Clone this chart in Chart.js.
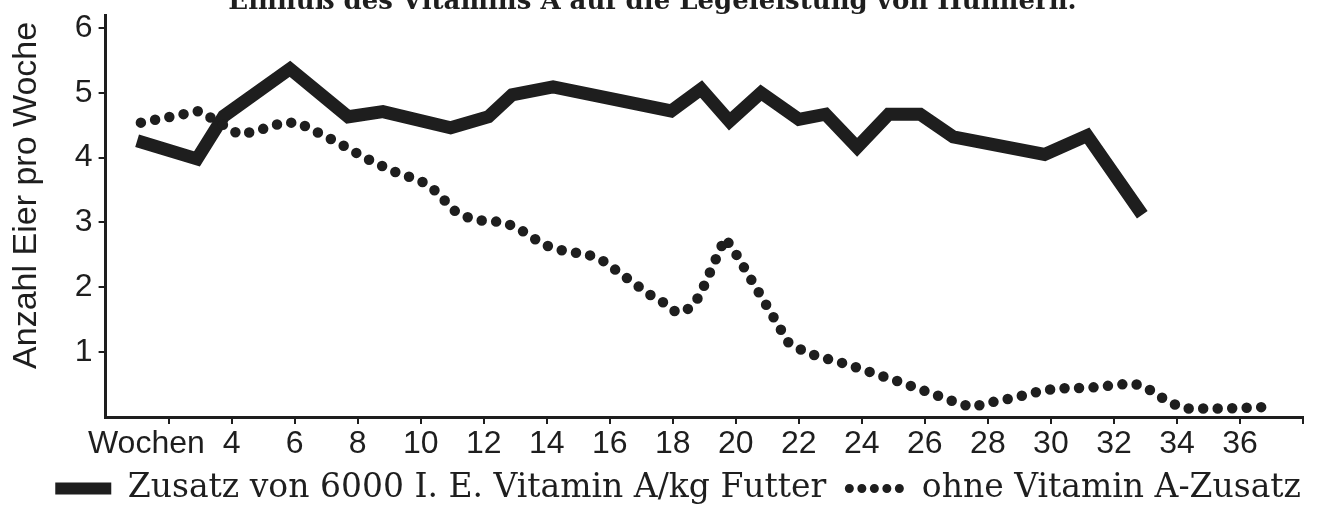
<!DOCTYPE html>
<html>
<head>
<meta charset="utf-8">
<script src="https://cdn.jsdelivr.net/npm/chart.js@4.4.1/dist/chart.umd.min.js"></script>
<style>
  html, body { margin: 0; padding: 0; background: #fff; overflow: hidden; }
  #wrap { position: absolute; left: 0; top: -15px; width: 1318px; height: 530px; }
</style>
</head>
<body>
<div id="wrap"><canvas id="eier" width="1318" height="530"></canvas></div>
<script>
// Wochen / Eier pro Woche
var mitWochen = [1.0, 2.9, 3.75, 5.85, 7.7, 8.8, 10.95, 12.15, 12.9, 14.2, 17.95, 18.9, 19.8, 20.8, 22.0, 22.85, 23.85, 24.85, 25.85, 26.9, 29.8, 31.15, 32.9];
var mitEier = [4.26, 3.98, 4.64, 5.37, 4.63, 4.71, 4.46, 4.63, 4.97, 5.09, 4.72, 5.06, 4.56, 5.0, 4.59, 4.67, 4.16, 4.67, 4.67, 4.32, 4.05, 4.34, 3.12];

var ohneWochen = [1.12, 2.98, 4.23, 4.71, 5.63, 6.11, 7.42, 8.26, 9.12, 10.01, 10.46, 11.1, 11.62, 12.09, 12.56, 13.03, 13.9, 14.3, 14.77, 15.24, 15.78, 17.32, 17.76, 18.12, 18.56, 18.85, 19.66, 19.95, 21.67, 22.14, 22.57, 23.48, 25.27, 27.02, 27.5, 27.94, 28.84, 29.75, 30.23, 31.21, 32.6, 33.04, 33.44, 33.84, 34.27, 35.5, 37.1];
var ohneEier = [4.54, 4.72, 4.36, 4.40, 4.54, 4.54, 4.22, 3.99, 3.79, 3.64, 3.49, 3.17, 3.05, 3.02, 3.01, 2.93, 2.66, 2.59, 2.54, 2.52, 2.41, 1.87, 1.75, 1.61, 1.68, 1.87, 2.76, 2.56, 1.15, 1.02, 0.94, 0.82, 0.53, 0.22, 0.15, 0.21, 0.30, 0.41, 0.44, 0.45, 0.52, 0.45, 0.32, 0.21, 0.13, 0.13, 0.16];

var xTickWerte = [2, 4, 6, 8, 10, 12, 14, 16, 18, 20, 22, 24, 26, 28, 30, 32, 34, 36];
var xTickText = ['Wochen     ', '4', '6', '8', '10', '12', '14', '16', '18', '20', '22', '24', '26', '28', '30', '32', '34', '36'];
var yTickText = ['', '1', '2', '3', '4', '5', '6'];

var legendeText = ['Zusatz von 6000 I. E. Vitamin A/kg Futter  ', 'ohne Vitamin A-Zusatz'];

var tinte = '#1e1e1e';
var sans = "'Liberation Sans', Arial, sans-serif";
var serif = "'DejaVu Serif', serif";

function punkte(xs, ys) {
  var d = [];
  for (var i = 0; i < xs.length; i++) {
    d.push({x: xs[i], y: ys[i]});
  }
  return d;
}

var mitG = {
  label: legendeText[0],
  data: punkte(mitWochen, mitEier),
  borderColor: tinte,
  backgroundColor: tinte,
  borderWidth: 13,
  borderJoinStyle: 'miter',
  borderCapStyle: 'butt',
  pointRadius: 0,
  tension: 0
};
var ohneG = {
  label: legendeText[1],
  data: punkte(ohneWochen, ohneEier),
  borderColor: tinte,
  backgroundColor: tinte,
  borderWidth: 10.5,
  borderDash: [0, 14.5],
  borderJoinStyle: 'round',
  borderCapStyle: 'round',
  pointRadius: 0,
  tension: 0
};

var ctx = document.getElementById('eier').getContext('2d');
var chart = new Chart(ctx, {
  type: 'line',
  data: { datasets: [ohneG, mitG] },
  options: {
    responsive: false,
    animation: false,
    layout: { padding: { left: 2, right: 15, top: 0, bottom: 0 } },
    plugins: {
      tooltip: { enabled: false },
      title: {
        display: true,
        text: 'Einfluß des Vitamins A auf die Legeleistung von Hühnern.',
        color: tinte,
        font: { family: serif, size: 26, weight: 'bold', lineHeight: 1.0 },
        padding: { top: 4, bottom: 0 }
      },
      legend: {
        display: true,
        position: 'bottom',
        align: 'end',
        labels: {
          usePointStyle: true,
          pointStyleWidth: 56,
          boxHeight: 12,
          padding: 2,
          color: tinte,
          font: { family: serif, size: 33 },
          generateLabels: function() {
            return [
              { text: legendeText[0], fillStyle: tinte, strokeStyle: tinte, lineWidth: 0, pointStyle: 'rect', fontColor: tinte, datasetIndex: 1 },
              { text: legendeText[1], fillStyle: 'rgba(0,0,0,0)', strokeStyle: tinte, lineWidth: 9, lineDash: [0, 12.5], lineCap: 'round', pointStyle: 'line', fontColor: tinte, datasetIndex: 0 }
            ];
          }
        }
      }
    },
    scales: {
      x: {
        type: 'linear',
        min: 0,
        max: 38,
        afterFit: function(scale) { scale.height += 6; },
        border: { display: true, color: tinte, width: 3 },
        grid: {
          drawOnChartArea: false,
          tickLength: 7,
          lineWidth: 2,
          color: function(c) { return c.tick && c.tick.value === 0 ? 'rgba(0,0,0,0)' : tinte; }
        },
        ticks: {
          stepSize: 2,
          autoSkip: false,
          maxRotation: 0,
          padding: 4,
          color: tinte,
          font: { family: sans, size: 32, lineHeight: 1.0 },
          callback: function(v) {
            var i = xTickWerte.indexOf(v);
            return i >= 0 ? xTickText[i] : '';
          }
        }
      },
      y: {
        min: 0,
        max: 6.2,
        border: { display: true, color: tinte, width: 3 },
        grid: {
          drawOnChartArea: false,
          tickLength: 7,
          lineWidth: 2,
          color: function(c) { return c.tick && c.tick.value === 0 ? 'rgba(0,0,0,0)' : tinte; }
        },
        ticks: {
          stepSize: 1,
          includeBounds: false,
          padding: 6,
          color: tinte,
          font: { family: sans, size: 32 },
          callback: function(v) { return yTickText[v] !== undefined ? yTickText[v] : ''; }
        },
        title: {
          display: true,
          align: 'end',
          text: 'Anzahl Eier pro Woche\u2009',
          color: tinte,
          font: { family: sans, size: 34 },
          padding: { top: 4, bottom: 22 }
        }
      }
    }
  }
});
</script>
</body>
</html>
